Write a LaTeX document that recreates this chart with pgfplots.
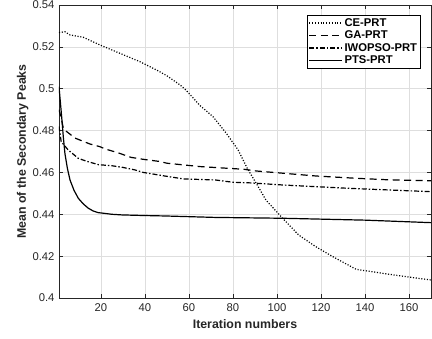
\documentclass[border=0pt]{standalone}
\usepackage{pgfplots}
\pgfplotsset{compat=1.18}
\usepackage{fontspec}
\setmainfont{Liberation Sans}
\definecolor{axgray}{RGB}{38,38,38}
\definecolor{gridgray}{RGB}{222,222,222}
\begin{document}
\begin{tikzpicture}
\path[use as bounding box] (-59bp,-41bp) rectangle (373bp,298bp);
\begin{axis}[
  scale only axis,
  width=372bp, height=293bp,
  xmin=1, xmax=170, ymin=0.4, ymax=0.54,
  xtick={20,40,...,160},
  ytick={0.4,0.42,...,0.541},
  /pgf/number format/assume math mode=true,
  /pgf/number format/fixed,
  /pgf/number format/precision=2,
  tick label style={font=\fontsize{11.3}{13}\selectfont, color=axgray},
  label style={font=\bfseries\fontsize{12.4}{14}\selectfont, color=axgray},
  xlabel={Iteration numbers},
  ylabel={Mean of the Secondary Peaks},
  xlabel style={at={(axis description cs:0.5,0)}, anchor=north, yshift=-18bp},
  ylabel style={at={(axis description cs:0,0.5)}, anchor=south, yshift=27bp},
  yticklabel style={xshift=-1bp},
  xticklabel style={yshift=-2bp},
  grid=major,
  major grid style={color=gridgray, line width=0.5bp},
  axis line style={color=axgray, line width=0.6bp},
  tick style={color=axgray, line width=0.6bp},
  major tick length=4bp,
  tick align=inside,
  xtick pos=both, ytick pos=both,
  legend cell align=left,
  legend style={at={(0.973,0.966)}, anchor=north east, draw=black, line width=0.5bp,
    fill=white, inner xsep=2bp, inner ysep=1.5bp, row sep=0bp,
    font=\bfseries\fontsize{11.3}{13}\selectfont,
    nodes={inner sep=1.6bp}},
  legend image code/.code={\draw[#1, line width=1.2bp] (0bp,0bp) -- (33bp,0bp);},
]
\addplot[black, line width=1.2bp, dash pattern=on 1.1bp off 1.7bp] coordinates {
(1,0.5268) (3.7,0.5272) (6,0.5257) (12,0.5246) (19.6,0.5209) (28.7,0.5169) (37.8,0.5129) (45.4,0.5089) (50,0.5062) (56,0.5018) (59,0.4990) (65,0.4920) (71,0.4866) (77,0.4787) (82.4,0.4707) (86.5,0.4620) (91.5,0.4532) (95,0.4468) (102.6,0.4381) (110,0.4300) (117.7,0.4245) (125.3,0.4198) (136,0.4137) (148,0.4118) (160,0.4100) (170,0.4086)};
\addlegendentry{CE-PRT}
\addplot[black, line width=1.2bp, dash pattern=on 7bp off 4.5bp] coordinates {
(1,0.490) (2,0.486) (3,0.481) (4.5,0.4795) (8.3,0.4764) (15,0.4736) (19.6,0.4723) (22,0.4712) (27.5,0.4695) (33.7,0.4672) (39,0.4663) (47,0.4652) (50,0.4644) (65,0.4628) (85,0.4615) (90.5,0.4607) (117.7,0.4583) (136,0.4572) (150,0.4565) (170,0.4560)};
\addlegendentry{GA-PRT}
\addplot[black, line width=1.2bp, dash pattern=on 5bp off 2bp on 1.5bp off 2bp] coordinates {
(1,0.482) (2,0.4747) (5.2,0.4707) (9.8,0.4667) (14.3,0.4651) (19,0.4637) (25,0.4632) (30,0.4624) (35.5,0.4612) (39.3,0.4600) (41.6,0.4596) (49,0.4583) (57.5,0.4569) (72,0.4564) (80,0.4553) (88,0.4550) (102.6,0.4540) (132.7,0.4524) (170,0.4508)};
\addlegendentry{IWOPSO-PRT}
\addplot[black, line width=1.2bp] coordinates {
(1,0.501) (2.2,0.4867) (3,0.4765) (3.7,0.4690) (4.8,0.4620) (6,0.4564) (7.8,0.4515) (9.8,0.4476) (12,0.4450) (14.3,0.4429) (16.5,0.4416) (18.8,0.4408) (22,0.4404) (25,0.4400) (29.5,0.4397) (40,0.4394) (49,0.4392) (72,0.4385) (102.6,0.4381) (140,0.4372) (170,0.4360)};
\addlegendentry{PTS-PRT}
\end{axis}
\end{tikzpicture}
\end{document}
